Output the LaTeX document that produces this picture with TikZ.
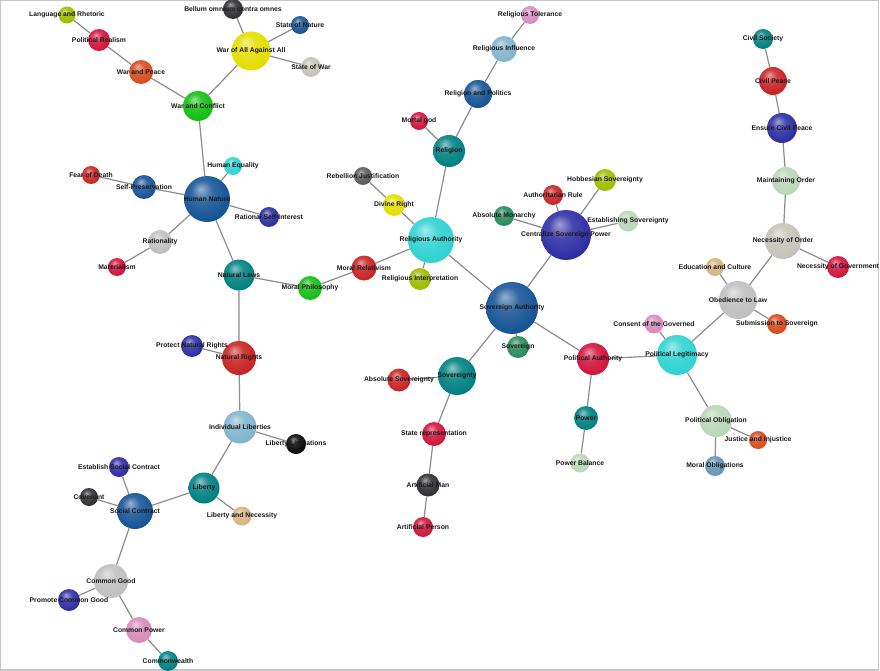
\documentclass[tikz,border=0pt]{standalone}
\usepackage{fontspec}
\setmainfont{Liberation Sans}
\usetikzlibrary{positioning}

\definecolor{cBlue}{RGB}{22,84,150}
\definecolor{cIndigo}{RGB}{46,46,165}
\definecolor{cTeal}{RGB}{0,128,128}
\definecolor{cCyan}{RGB}{48,210,210}
\definecolor{cRed}{RGB}{200,35,35}
\definecolor{cCrimson}{RGB}{210,20,60}
\definecolor{cOrange}{RGB}{215,75,30}
\definecolor{cGreen}{RGB}{20,190,20}
\definecolor{cYellow}{RGB}{228,222,0}
\definecolor{cLime}{RGB}{158,188,0}
\definecolor{cSea}{RGB}{40,140,90}
\definecolor{cMint}{RGB}{185,215,185}
\definecolor{cSilver}{RGB}{192,192,192}
\definecolor{cStone}{RGB}{196,196,184}
\definecolor{cSky}{RGB}{130,180,205}
\definecolor{cSteel}{RGB}{100,150,185}
\definecolor{cPink}{RGB}{215,140,185}
\definecolor{cTan}{RGB}{215,180,130}
\definecolor{cCoal}{RGB}{48,48,52}
\definecolor{cGray}{RGB}{92,92,92}
\definecolor{cInk}{RGB}{8,8,8}
\colorlet{orbcolor}{gray}

\pgfdeclareradialshading[orbcolor]{orb}{\pgfqpoint{-7bp}{11bp}}{%
  color(0bp)=(orbcolor!45!white); color(12bp)=(orbcolor!88!white);
  color(28bp)=(orbcolor); color(44bp)=(orbcolor!78!black);
  color(50bp)=(orbcolor!62!black)}

\pgfdeclarelayer{edges}
\pgfdeclarelayer{texts}
\pgfsetlayers{edges,main,texts}

\tikzset{
  sphere/.style={circle, inner sep=0pt, shade, shading=orb,
    /utils/exec={\colorlet{orbcolor}{#1}}},
  tag/.style={font=\fontsize{6.8}{8}\selectfont\bfseries, text=black!90,
    inner sep=0pt},
  link/.style={draw=black!45, line width=1.2pt},
  frame/.style={draw=black!22, line width=1.3pt}
}

\newcommand\orb[5]{%
  \node[sphere=#4, minimum size=#3pt] (#1) at (#2) {};
  \begin{pgfonlayer}{texts}\node[tag] (#1t) at (#1) {#5};\end{pgfonlayer}}

\begin{document}
\begin{tikzpicture}[x=1pt, y=-1pt]
  \useasboundingbox (0,0) rectangle (880,671);
  \draw[frame] (0.8,0.8) rectangle (878.5,670);

  \orb{w0}{67,15}{17}{cLime}{Language and Rhetoric}
  \orb{w1}{99,40}{22}{cCrimson}{Political Realism}
  \orb{w2}{141,72}{24}{cOrange}{War and Peace}
  \orb{w3}{198,106}{30}{cGreen}{War and Conflict}
  \orb{w4}{251,51}{39}{cYellow}{War of All Against All}
  \orb{w5}{233,9}{20}{cCoal}{Bellum omnium contra omnes}
  \orb{w6}{300,25}{18}{cBlue}{State of Nature}
  \orb{w7}{311,67}{20}{cStone}{State of War}

  \orb{h0}{207,199}{46}{cBlue}{Human Nature}
  \orb{h1}{233,166}{18}{cCyan}{Human Equality}
  \orb{h2}{91,175}{18}{cRed}{Fear of Death}
  \orb{h3}{144,187}{24}{cBlue}{Self-Preservation}
  \orb{h4}{269,217}{20}{cIndigo}{Rational Self-Interest}
  \orb{h5}{160,242}{24}{cSilver}{Rationality}
  \orb{h6}{117,267}{18}{cCrimson}{Materialism}
  \orb{h7}{239,275}{31}{cTeal}{Natural Laws}
  \orb{h8}{310,288}{24}{cGreen}{Moral Philosophy}
  \orb{h9}{239,358}{34}{cRed}{Natural Rights}
  \orb{h10}{192,346}{22}{cIndigo}{Protect Natural Rights}

  \orb{l0}{240,427}{33}{cSky}{Individual Liberties}
  \orb{l1}{296,444}{20}{cInk}{Liberty Limitations}
  \orb{l2}{204,488}{31}{cTeal}{Liberty}
  \orb{l3}{242,516}{19}{cTan}{Liberty and Necessity}
  \orb{l4}{135,511}{36}{cBlue}{Social Contract}
  \orb{l5}{119,467}{20}{cIndigo}{Establish Social Contract}
  \orb{l6}{89,497}{18}{cCoal}{Covenant}
  \orb{l7}{111,581}{34}{cSilver}{Common Good}
  \orb{l8}{69,600}{22}{cIndigo}{Promote Common Good}
  \orb{l9}{139,630}{26}{cPink}{Common Power}
  \orb{l10}{168,661}{20}{cTeal}{Commonwealth}

  \orb{r0}{431,240}{46}{cCyan}{Religious Authority}
  \orb{r1}{449,151}{32}{cTeal}{Religion}
  \orb{r2}{419,121}{18}{cCrimson}{Mortal god}
  \orb{r3}{478,94}{28}{cBlue}{Religion and Politics}
  \orb{r4}{504,49}{26}{cSky}{Religious Influence}
  \orb{r5}{530,15}{18}{cPink}{Religious Tolerance}
  \orb{r6}{394,205}{22}{cYellow}{Divine Right}
  \orb{r7}{363,176}{18}{cGray}{Rebellion Justification}
  \orb{r8}{364,268}{25}{cRed}{Moral Relativism}
  \orb{r9}{420,279}{22}{cLime}{Religious Interpretation}

  \orb{s0}{512,308}{52}{cBlue}{Sovereign Authority}
  \orb{s1}{566,235}{50}{cIndigo}{Centralize Sovereign Power}
  \orb{s2}{504,216}{20}{cSea}{Absolute Monarchy}
  \orb{s3}{553,195}{20}{cRed}{Authoritarian Rule}
  \orb{s4}{605,180}{22}{cLime}{Hobbesian Sovereignty}
  \orb{s5}{628,221}{21}{cMint}{Establishing Sovereignty}
  \orb{s6}{518,347}{22}{cSea}{Sovereign}
  \orb{s7}{457,376}{38}{cTeal}{Sovereignty}
  \orb{s8}{399,380}{23}{cRed}{Absolute Sovereignty}
  \orb{s9}{434,434}{24}{cCrimson}{State representation}
  \orb{s10}{428,485}{23}{cCoal}{Artificial Man}
  \orb{s11}{423,527}{20}{cCrimson}{Artificial Person}

  \orb{p0}{593,359}{32}{cCrimson}{Political Authority}
  \orb{p1}{586,418}{24}{cTeal}{Power}
  \orb{p2}{580,463}{19}{cMint}{Power Balance}
  \orb{p3}{677,355}{40}{cCyan}{Political Legitimacy}
  \orb{p4}{654,324}{19}{cPink}{Consent of the Governed}
  \orb{p5}{716,421}{32}{cMint}{Political Obligation}
  \orb{p6}{758,440}{18}{cOrange}{Justice and Injustice}
  \orb{p7}{715,466}{20}{cSteel}{Moral Obligations}

  \orb{o0}{738,300}{38}{cSilver}{Obedience to Law}
  \orb{o1}{715,267}{18}{cTan}{Education and Culture}
  \orb{o2}{777,324}{20}{cOrange}{Submission to Sovereign}
  \orb{o3}{783,241}{36}{cStone}{Necessity of Order}
  \orb{o4}{838,267}{22}{cCrimson}{Necessity of Government}
  \orb{o5}{786,181}{28}{cMint}{Maintaining Order}
  \orb{o6}{782,128}{30}{cIndigo}{Ensure Civil Peace}
  \orb{o7}{773,81}{28}{cRed}{Civil Peace}
  \orb{o8}{763,39}{20}{cTeal}{Civil Society}

  \begin{pgfonlayer}{edges}
    \draw[link] (w0) -- (w1) -- (w2) -- (w3) -- (w4);
    \draw[link] (w4) -- (w5); \draw[link] (w4) -- (w6);
    \draw[link] (w4) -- (w7); \draw[link] (w3) -- (h0);
    \draw[link] (h0) -- (h1); \draw[link] (h0) -- (h3) -- (h2);
    \draw[link] (h0) -- (h4); \draw[link] (h0) -- (h5) -- (h6);
    \draw[link] (h0) -- (h7) -- (h8) -- (r8) -- (r0);
    \draw[link] (h7) -- (h9) -- (h10); \draw[link] (h9) -- (l0);
    \draw[link] (l0) -- (l1); \draw[link] (l0) -- (l2) -- (l3);
    \draw[link] (l2) -- (l4) -- (l5); \draw[link] (l4) -- (l6);
    \draw[link] (l4) -- (l7) -- (l8); \draw[link] (l7) -- (l9) -- (l10);
    \draw[link] (r0) -- (r1) -- (r2); \draw[link] (r1) -- (r3) -- (r4) -- (r5);
    \draw[link] (r0) -- (r6) -- (r7); \draw[link] (r0) -- (r9);
    \draw[link] (r0) -- (s0) -- (s1) -- (s2); \draw[link] (s1) -- (s3);
    \draw[link] (s1) -- (s4); \draw[link] (s1) -- (s5);
    \draw[link] (s0) -- (s6); \draw[link] (s0) -- (s7) -- (s8);
    \draw[link] (s7) -- (s9) -- (s10) -- (s11);
    \draw[link] (s0) -- (p0) -- (p1) -- (p2); \draw[link] (p0) -- (p3) -- (p4);
    \draw[link] (p3) -- (p5) -- (p6); \draw[link] (p5) -- (p7);
    \draw[link] (p3) -- (o0) -- (o1); \draw[link] (o0) -- (o2);
    \draw[link] (o0) -- (o3) -- (o4);
    \draw[link] (o3) -- (o5) -- (o6) -- (o7) -- (o8);
  \end{pgfonlayer}
\end{tikzpicture}
\end{document}
